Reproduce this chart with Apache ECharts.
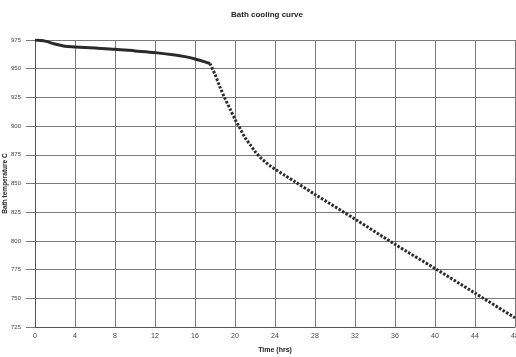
<!DOCTYPE html>
<html><head><meta charset="utf-8">
<script src="https://cdn.jsdelivr.net/npm/echarts@6/dist/echarts.min.js"></script>
<style>html,body{margin:0;padding:0;background:#fff}#c{width:516px;height:357px}</style>
</head><body><div id="c"></div>
<script>
const titleText = 'Bath cooling curve';
const xName = 'Time (hrs)';
const yName = 'Bath temperature C';
// solid (dense) part of the curve: [time hrs, temperature C]
const solidPart = [[0,975],[1,974],[2,971.5],[3,969.5],[4,969],[6,968],[8,967],[10,965.5],[12,964],[14,962],[15,960.5],[16,958.5],[17,956],[17.5,954.5]];
// dotted part of the curve
const dottedPart = [[17.5,954.5],[18,945],[18.5,934],[19,924],[19.5,915],[20,906],[20.5,898],[21,890],[21.5,884],[22,878],[22.5,873],[23,869],[23.5,865.5],[24,862.5],[25,857],[26,851.5],[28,840.5],[32,819],[36,797],[40,776],[44,754.5],[48,733]];
const xMin = 0, xMax = 48, xStep = 4;
const yMin = 725, yMax = 975, yStep = 25;

const chart = echarts.init(document.getElementById('c'), null, {renderer:'canvas'});
const gridLine = {show:true, lineStyle:{color:'#7a7a7a', width:1, type:'solid'}};
chart.setOption({
  animation:false,
  backgroundColor:'#fff',
  title:{text:titleText, left:262, top:6, textAlign:'center',
    textStyle:{fontFamily:'Liberation Sans', fontSize:8, fontWeight:'bold', color:'#222'}},
  grid:{left:35, right:1, top:40, bottom:30, containLabel:false, outerBoundsMode:'none'},
  xAxis:{type:'value', min:xMin, max:xMax, interval:xStep,
    name:xName, nameLocation:'middle', nameGap:20,
    nameTextStyle:{fontFamily:'Liberation Sans', fontSize:7, fontWeight:'bold', color:'#222'},
    axisLine:{show:true, lineStyle:{color:'#555', width:1}},
    axisTick:{show:false},
    axisLabel:{fontFamily:'Liberation Sans', fontSize:7, color:'#444', margin:6, hideOverlap:false},
    splitLine:gridLine},
  yAxis:{type:'value', min:yMin, max:yMax, interval:yStep,
    name:yName, nameLocation:'middle', nameGap:26, nameMoveOverlap:false,
    nameTextStyle:{fontFamily:'Liberation Sans', fontSize:6.5, fontWeight:'bold', color:'#222'},
    axisLine:{show:true, lineStyle:{color:'#555', width:1}},
    axisTick:{show:true, inside:false, length:9, lineStyle:{color:'#777'}},
    axisLabel:{fontFamily:'Liberation Sans', fontSize:6, color:'#444', margin:14},
    splitLine:gridLine},
  series:[
    {type:'line', data:solidPart, showSymbol:false, smooth:0.3,
      lineStyle:{color:'#2a2a2a', width:3}},
    {type:'line', data:dottedPart, showSymbol:false, smooth:0.3,
      lineStyle:{color:'#2a2a2a', width:3, type:[2.5,1.6]}}
  ]
});
</script></body></html>
